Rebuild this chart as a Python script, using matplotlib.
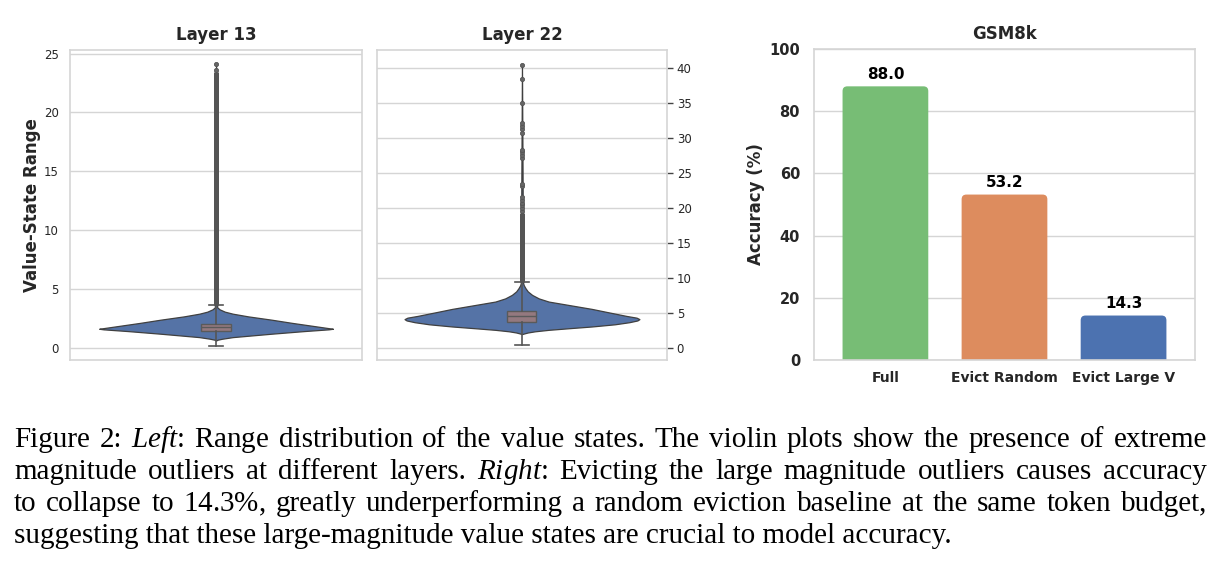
import matplotlib.pyplot as plt
from matplotlib.patches import FancyBboxPatch

# violin outlines (value, half width of the violin)
l13_y = [0.65, 0.72, 0.8, 0.94, 1.1, 1.23, 1.45, 1.6, 1.65, 1.9, 2.15, 2.42, 2.7, 2.93,
         3.1, 3.3, 3.47, 24.1]
l13_w = [0.0, 0.005, 0.02, 0.057, 0.13, 0.19, 0.30, 0.385, 0.40, 0.33, 0.26, 0.19, 0.11,
         0.057, 0.03, 0.012, 0.004, 0.0]
l13_box = {'whislo': 0.2, 'q1': 1.45, 'med': 1.76, 'q3': 2.08, 'whishi': 3.64}
l13_dense = [3.64, 23.4]          # outliers so packed they read as one bar
l13_outliers = [23.6, 24.1]

l22_y = [2.0, 2.1, 2.23, 2.4, 2.61, 2.85, 3.09, 3.4, 3.7, 3.95, 4.14, 4.35, 4.6, 5.1, 5.6,
         6.1, 6.65, 7.1, 7.6, 8.1, 8.56, 9.0, 9.3, 40.5]
l22_w = [0.0, 0.008, 0.02, 0.045, 0.092, 0.165, 0.241, 0.32, 0.37, 0.398, 0.405, 0.395,
         0.36, 0.30, 0.241, 0.17, 0.092, 0.058, 0.035, 0.02, 0.012, 0.006, 0.004, 0.0]
l22_box = {'whislo': 0.47, 'q1': 3.71, 'med': 4.56, 'q3': 5.37, 'whishi': 9.5}
l22_dense = [9.5, 19.3]
l22_outliers = [19.6, 20.0, 20.4, 20.8, 21.2, 21.6, 23.1, 23.5, 27.2, 27.6, 28.0, 28.3,
                30.8, 31.3, 31.7, 32.1, 35.0, 38.4, 40.5]

methods = ['Full', 'Evict Random', 'Evict Large V']
accuracy = [88.0, 53.2, 14.3]
bar_colors = ['#77bd75', '#dd8c5e', '#4c72b0']

caption = [
    r"Figure 2: $\mathit{Left}$: $\mathrm{Range}$ distribution of the value states. The violin plots show the presence of extreme",
    r"magnitude outliers at different layers. $\mathit{Right}$: Evicting the large magnitude outliers causes accuracy",
    r"to collapse to $14.3\%$, greatly underperforming a random eviction baseline at the same token budget,",
    r"suggesting that these large-magnitude value states are crucial to model accuracy.",
]

plt.rcParams['font.family'] = 'DejaVu Sans'
plt.rcParams['mathtext.fontset'] = 'custom'
plt.rcParams['mathtext.rm'] = 'Liberation Serif'
plt.rcParams['mathtext.it'] = 'Liberation Serif:italic'

grid_c = '#d5d5d5'
text_c = '#262626'
W, H = 1222, 568

fig = plt.figure(figsize=(12.22, 5.68), dpi=100)
ax1 = fig.add_axes([0.0573, 0.3662, 0.2390, 0.5458])
ax2 = fig.add_axes([0.3085, 0.3662, 0.2373, 0.5458])
ax3 = fig.add_axes([0.6661, 0.3662, 0.3118, 0.5475])


def style(ax):
    ax.set_facecolor('white')
    for s in ax.spines.values():
        s.set_color(grid_c)
        s.set_linewidth(1.2)
    ax.yaxis.grid(True, color=grid_c, lw=1.0)
    ax.set_axisbelow(True)


def violin(ax, ys, ws, box, dense, outliers):
    style(ax)
    ax.fill_betweenx(ys, [-w for w in ws], ws, facecolor='#5573a6',
                     edgecolor='#404040', lw=0.9, zorder=2)
    ax.vlines(0, dense[0], dense[1], color='#555555', lw=3.6, zorder=3)
    stats = dict(box, fliers=outliers)
    ax.bxp([stats], positions=[0], widths=0.1, capwidths=0.05, patch_artist=True,
           boxprops=dict(facecolor='#94797f', edgecolor='#5a5a5a', lw=1.0),
           medianprops=dict(color='#5a5a5a', lw=1.0),
           whiskerprops=dict(color='#555555', lw=1.2),
           capprops=dict(color='#555555', lw=1.2),
           flierprops=dict(marker='o', markersize=3, markerfacecolor='#666666',
                           markeredgecolor='#555555', markeredgewidth=0.6),
           zorder=4)
    ax.set_xlim(-0.5, 0.5)
    ax.set_xticks([])


violin(ax1, l13_y, l13_w, l13_box, l13_dense, l13_outliers)
ax1.set_ylim(-1.0, 25.3)
ax1.set_yticks(range(0, 26, 5))
ax1.tick_params(axis='y', length=0, labelsize=8.5, labelcolor=text_c, pad=8)
ax1.set_ylabel('Value-State Range', fontsize=12, fontweight='bold', color=text_c, labelpad=2)
ax1.set_title('Layer 13', fontsize=12, fontweight='bold', color=text_c, pad=7)

violin(ax2, l22_y, l22_w, l22_box, l22_dense, l22_outliers)
ax2.set_ylim(-1.7, 42.6)
ax2.set_yticks(range(0, 41, 5))
ax2.yaxis.tick_right()
ax2.tick_params(axis='y', length=4, width=1, color='#444444', labelsize=8.5,
                labelcolor=text_c, pad=3)
ax2.set_title('Layer 22', fontsize=12, fontweight='bold', color=text_c, pad=7)

# bar chart with rounded bars
style(ax3)
x = range(len(methods))
bars = ax3.bar(x, accuracy, width=0.72, color=bar_colors)
for b, c in zip(bars, bar_colors):
    b.set_visible(False)
    ax3.add_patch(FancyBboxPatch((b.get_x(), -3), b.get_width(), b.get_height() + 3,
                                 boxstyle='round,pad=0,rounding_size=0.04',
                                 mutation_aspect=38, facecolor=c, edgecolor='none',
                                 zorder=2))
ax3.bar_label(bars, labels=[f'{v:.1f}' for v in accuracy], padding=3,
              fontsize=11, fontweight='bold', color='black')
ax3.set_xlim(-0.6, 2.6)
ax3.set_ylim(0, 100)
ax3.set_yticks(range(0, 101, 20))
ax3.set_xticks(list(x))
ax3.set_xticklabels(methods, fontweight='bold', fontsize=10, color=text_c)
for lab in ax3.get_yticklabels():
    lab.set_fontweight('bold')
ax3.tick_params(axis='y', length=0, labelsize=10.5, labelcolor=text_c, pad=10)
ax3.tick_params(axis='x', length=0, pad=8)
ax3.set_ylabel('Accuracy (%)', fontsize=12, fontweight='bold', color=text_c, labelpad=3)
ax3.set_title('GSM8k', fontsize=12, fontweight='bold', color=text_c, pad=7)

# figure caption, first three lines justified between x0 and x1
x0, x1 = 14, 1207
fig.canvas.draw()
r = fig.canvas.get_renderer()
for i, line in enumerate(caption):
    y = 1 - (447 + 32 * i) / H
    if i == len(caption) - 1:
        fig.text(x0 / W, y, line, fontsize=21, family='Liberation Serif',
                 ha='left', va='baseline', color='black')
        continue
    words = line.split(' ')
    texts = [fig.text(0, y, wd, fontsize=21, family='Liberation Serif',
                      ha='left', va='baseline', color='black') for wd in words]
    widths = [t.get_window_extent(r).width for t in texts]
    gap = (x1 - x0 - sum(widths)) / (len(words) - 1)
    pos = x0
    for t, w in zip(texts, widths):
        t.set_x(pos / W)
        pos += w + gap

fig.savefig('out.png', dpi=100)
